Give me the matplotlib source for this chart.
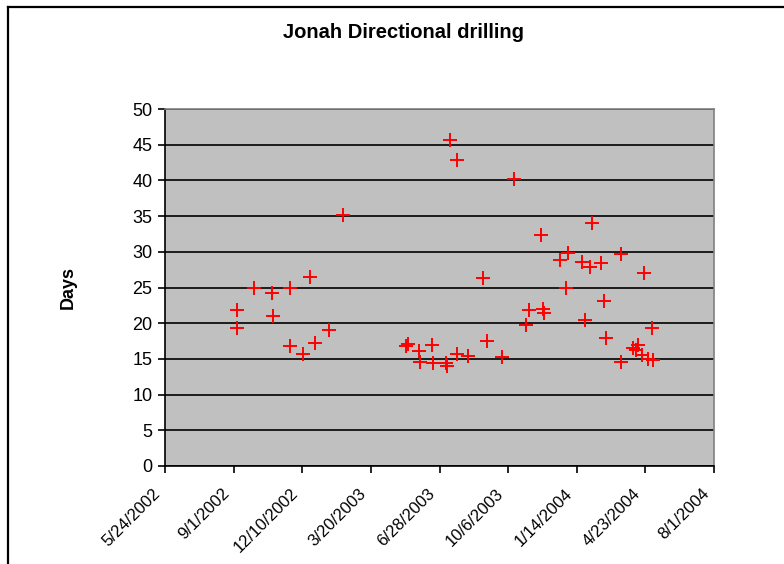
import matplotlib
matplotlib.use("Agg")
import matplotlib.pyplot as plt
import matplotlib.dates as mdates
import matplotlib.transforms as mtransforms
from matplotlib.lines import Line2D
import pandas as pd

plt.rcParams['font.family'] = ['Liberation Sans', 'DejaVu Sans']

# Spud-to-release dates of each well and the days it took to drill
well_dates = [
    "2002-09-06", "2002-09-06", "2002-10-01", "2002-10-27", "2002-10-29",
    "2002-11-22", "2002-11-22", "2002-12-11", "2002-12-21", "2002-12-28",
    "2003-01-18", "2003-02-07",
    "2003-05-10", "2003-05-13", "2003-05-29", "2003-05-30", "2003-06-17",
    "2003-06-18", "2003-07-07", "2003-07-09", "2003-07-14", "2003-07-23",
    "2003-07-24", "2003-08-09", "2003-08-30", "2003-09-05", "2003-09-27",
    "2003-10-15", "2003-11-01", "2003-11-06", "2003-11-23", "2003-11-26",
    "2003-11-27", "2003-12-21", "2003-12-30", "2004-01-01", "2004-01-21",
    "2004-01-26", "2004-02-02", "2004-02-05", "2004-02-19", "2004-02-23",
    "2004-02-25", "2004-03-18", "2004-03-19", "2004-04-05", "2004-04-10",
    "2004-04-12", "2004-04-18", "2004-04-21", "2004-04-27", "2004-05-02",
    "2004-05-04",
]
drill_days = [
    21.8, 19.3, 24.9, 24.2, 21.0,
    25.0, 16.8, 15.7, 26.5, 17.2,
    19.1, 35.1,
    16.8, 17.1, 16.1, 14.5, 16.9,
    14.4, 14.4, 14.0, 45.7, 42.9,
    15.7, 15.4, 26.3, 17.5, 15.3,
    40.2, 19.8, 21.8, 32.4, 22.0,
    21.4, 28.8, 24.9, 29.9, 28.6,
    20.4, 27.9, 34.1, 28.4, 23.1,
    17.9, 14.6, 29.7, 16.5, 16.2,
    17.0, 15.5, 27.0, 15.0, 19.3,
    14.9,
]

# Date axis: 100-day steps
x_tick_dates = ["2002-05-24", "2002-09-01", "2002-12-10", "2003-03-20",
                "2003-06-28", "2003-10-06", "2004-01-14", "2004-04-23",
                "2004-08-01"]
y_ticks = [0, 5, 10, 15, 20, 25, 30, 35, 40, 45, 50]

W, H = 784, 564
fig = plt.figure(figsize=(W / 100, H / 100), dpi=100)
fig.patch.set_facecolor("white")

# Outer chart frame (left and top edges visible)
fig.add_artist(Line2D([8 / W, 8 / W], [0, 1 - 7 / H], color="black", lw=1.6,
                      transform=fig.transFigure))
fig.add_artist(Line2D([8 / W, 1], [1 - 7 / H, 1 - 7 / H], color="black", lw=1.6,
                      transform=fig.transFigure))

left, right, top, bottom = 165, 714, 109, 466
ax = fig.add_axes([left / W, (H - bottom) / H, (right - left) / W, (bottom - top) / H])
ax.set_facecolor("#C0C0C0")

xd = mdates.date2num(pd.to_datetime(well_dates))
ax.plot(xd, drill_days, linestyle="none", marker="+", color="#FF0000",
        markersize=10, markeredgewidth=1.4, zorder=3)

xt = mdates.date2num(pd.to_datetime(x_tick_dates))
ax.set_xlim(xt[0], xt[-1])
ax.set_ylim(0, 50)
ax.set_xticks(xt)
ax.set_xticklabels([])

# Slanted date labels, anchored at their right end just below-left of each tick
label_offset = mtransforms.ScaledTranslation(-7 / 100, -25 / 100, fig.dpi_scale_trans)
for x, d in zip(xt, pd.to_datetime(x_tick_dates)):
    ax.text(x, 0, f"{d.month}/{d.day}/{d.year}",
            transform=ax.get_xaxis_transform() + label_offset,
            rotation=45, ha="right", va="center", rotation_mode="anchor",
            fontsize=12, clip_on=False)

ax.set_yticks(y_ticks)
ax.set_yticklabels([str(v) for v in y_ticks], fontsize=13)

ax.yaxis.grid(True, color="black", linewidth=1.2)
ax.set_axisbelow(True)

for side in ("top", "right"):
    ax.spines[side].set_color("#808080")
    ax.spines[side].set_linewidth(1.2)
for side in ("left", "bottom"):
    ax.spines[side].set_color("black")
    ax.spines[side].set_linewidth(1.2)

ax.tick_params(axis="both", direction="out", length=5, width=1.2, color="black")
ax.tick_params(axis="y", pad=4)

ax.set_ylabel("Days", fontsize=13, fontweight="bold", labelpad=40)
fig.text(404 / W, 1 - 33 / H, "Jonah Directional drilling", ha="center", va="center",
         fontsize=14.5, fontweight="bold")

fig.savefig("out.png", dpi=100)
